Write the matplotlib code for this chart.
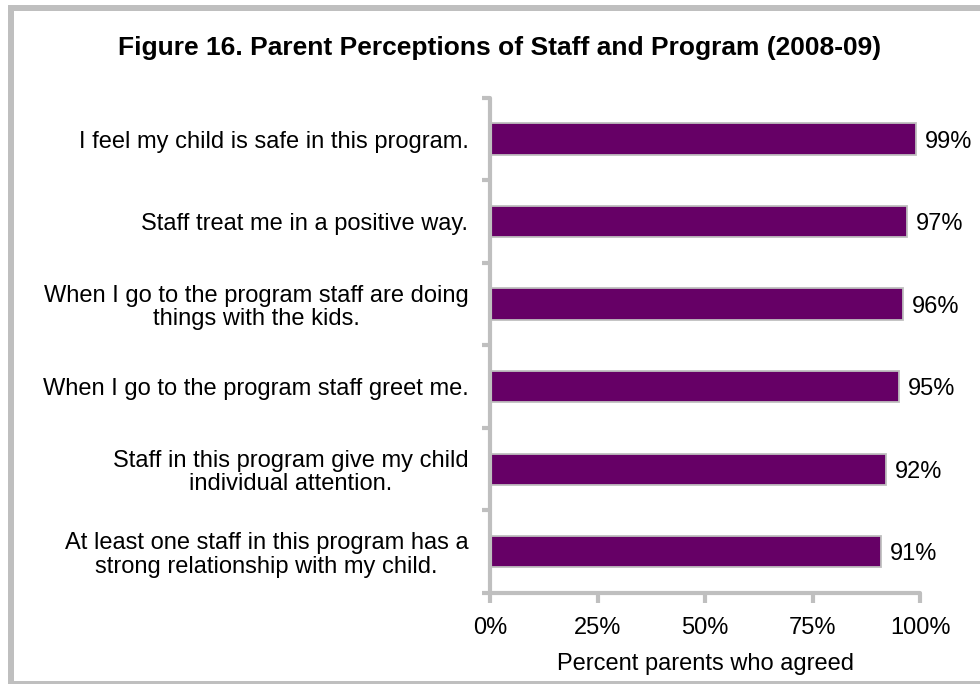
import numpy as np
import matplotlib
matplotlib.use('Agg')
import matplotlib.pyplot as plt
from matplotlib.patches import Rectangle

plt.rcParams['font.family'] = ['Liberation Sans', 'DejaVu Sans']

STATEMENTS = [
    'I feel my child is safe in this program.',
    'Staff treat me in a positive way.',
    'When I go to the program staff are doing\nthings with the kids.',
    'When I go to the program staff greet me.',
    'Staff in this program give my child\nindividual attention.',
    'At least one staff in this program has a\nstrong relationship with my child.',
]
AGREED = [99, 97, 96, 95, 92, 91]
X_TICKS = [0, 25, 50, 75, 100]

BAR_COLOR = '#660066'
GRID_GRAY = '#bfbfbf'
FS = 17


def main():
    fig = plt.figure(figsize=(9.8, 6.84), dpi=100)
    ax = fig.add_axes([0.5, 0.133, 0.4388, 0.724])

    # outer frame of the figure box
    fig.patches.append(Rectangle((11 / 980, 0.0), 1.2, 1 - 8 / 684,
                                 transform=fig.transFigure, fill=False,
                                 edgecolor=GRID_GRAY, linewidth=4.3))

    y = np.arange(len(STATEMENTS))
    ax.barh(y, AGREED, height=0.38, color=BAR_COLOR,
            edgecolor=GRID_GRAY, linewidth=1.3)
    for yi, v in zip(y, AGREED):
        ax.text(v + 2.1, yi + 0.03, f'{v}%', va='center', ha='left',
                fontsize=FS)

    ax.set_xlim(0, 100)
    ax.set_ylim(len(STATEMENTS) - 0.5, -0.5)

    # ticks on category boundaries, labels at category centres
    ax.set_yticks(np.arange(len(STATEMENTS) + 1) - 0.5)
    ax.set_yticklabels([])
    ax.set_yticks(y, minor=True)
    ax.set_yticklabels(STATEMENTS, minor=True, fontsize=FS,
                       multialignment='center', linespacing=1.1)
    ax.tick_params(axis='y', which='major', length=6, width=3,
                   color=GRID_GRAY, direction='out')
    ax.tick_params(axis='y', which='minor', length=0, pad=15.5)

    ax.set_xticks(X_TICKS)
    ax.set_xticklabels([f'{t}%' for t in X_TICKS], fontsize=FS)
    ax.tick_params(axis='x', length=7, width=3, color=GRID_GRAY,
                   direction='out', pad=10)
    ax.set_xlabel('Percent parents who agreed', fontsize=FS, labelpad=10)

    for side in ('top', 'right'):
        ax.spines[side].set_visible(False)
    for side in ('left', 'bottom'):
        ax.spines[side].set_color(GRID_GRAY)
        ax.spines[side].set_linewidth(3)
        ax.spines[side].set_capstyle('round')

    fig.text(500 / 980, 1 - 48 / 684,
             'Figure 16. Parent Perceptions of Staff and Program (2008-09)',
             ha='center', va='center', fontsize=19, fontweight='bold')

    fig.savefig('out.png', dpi=100)
    plt.close(fig)


if __name__ == '__main__':
    main()
